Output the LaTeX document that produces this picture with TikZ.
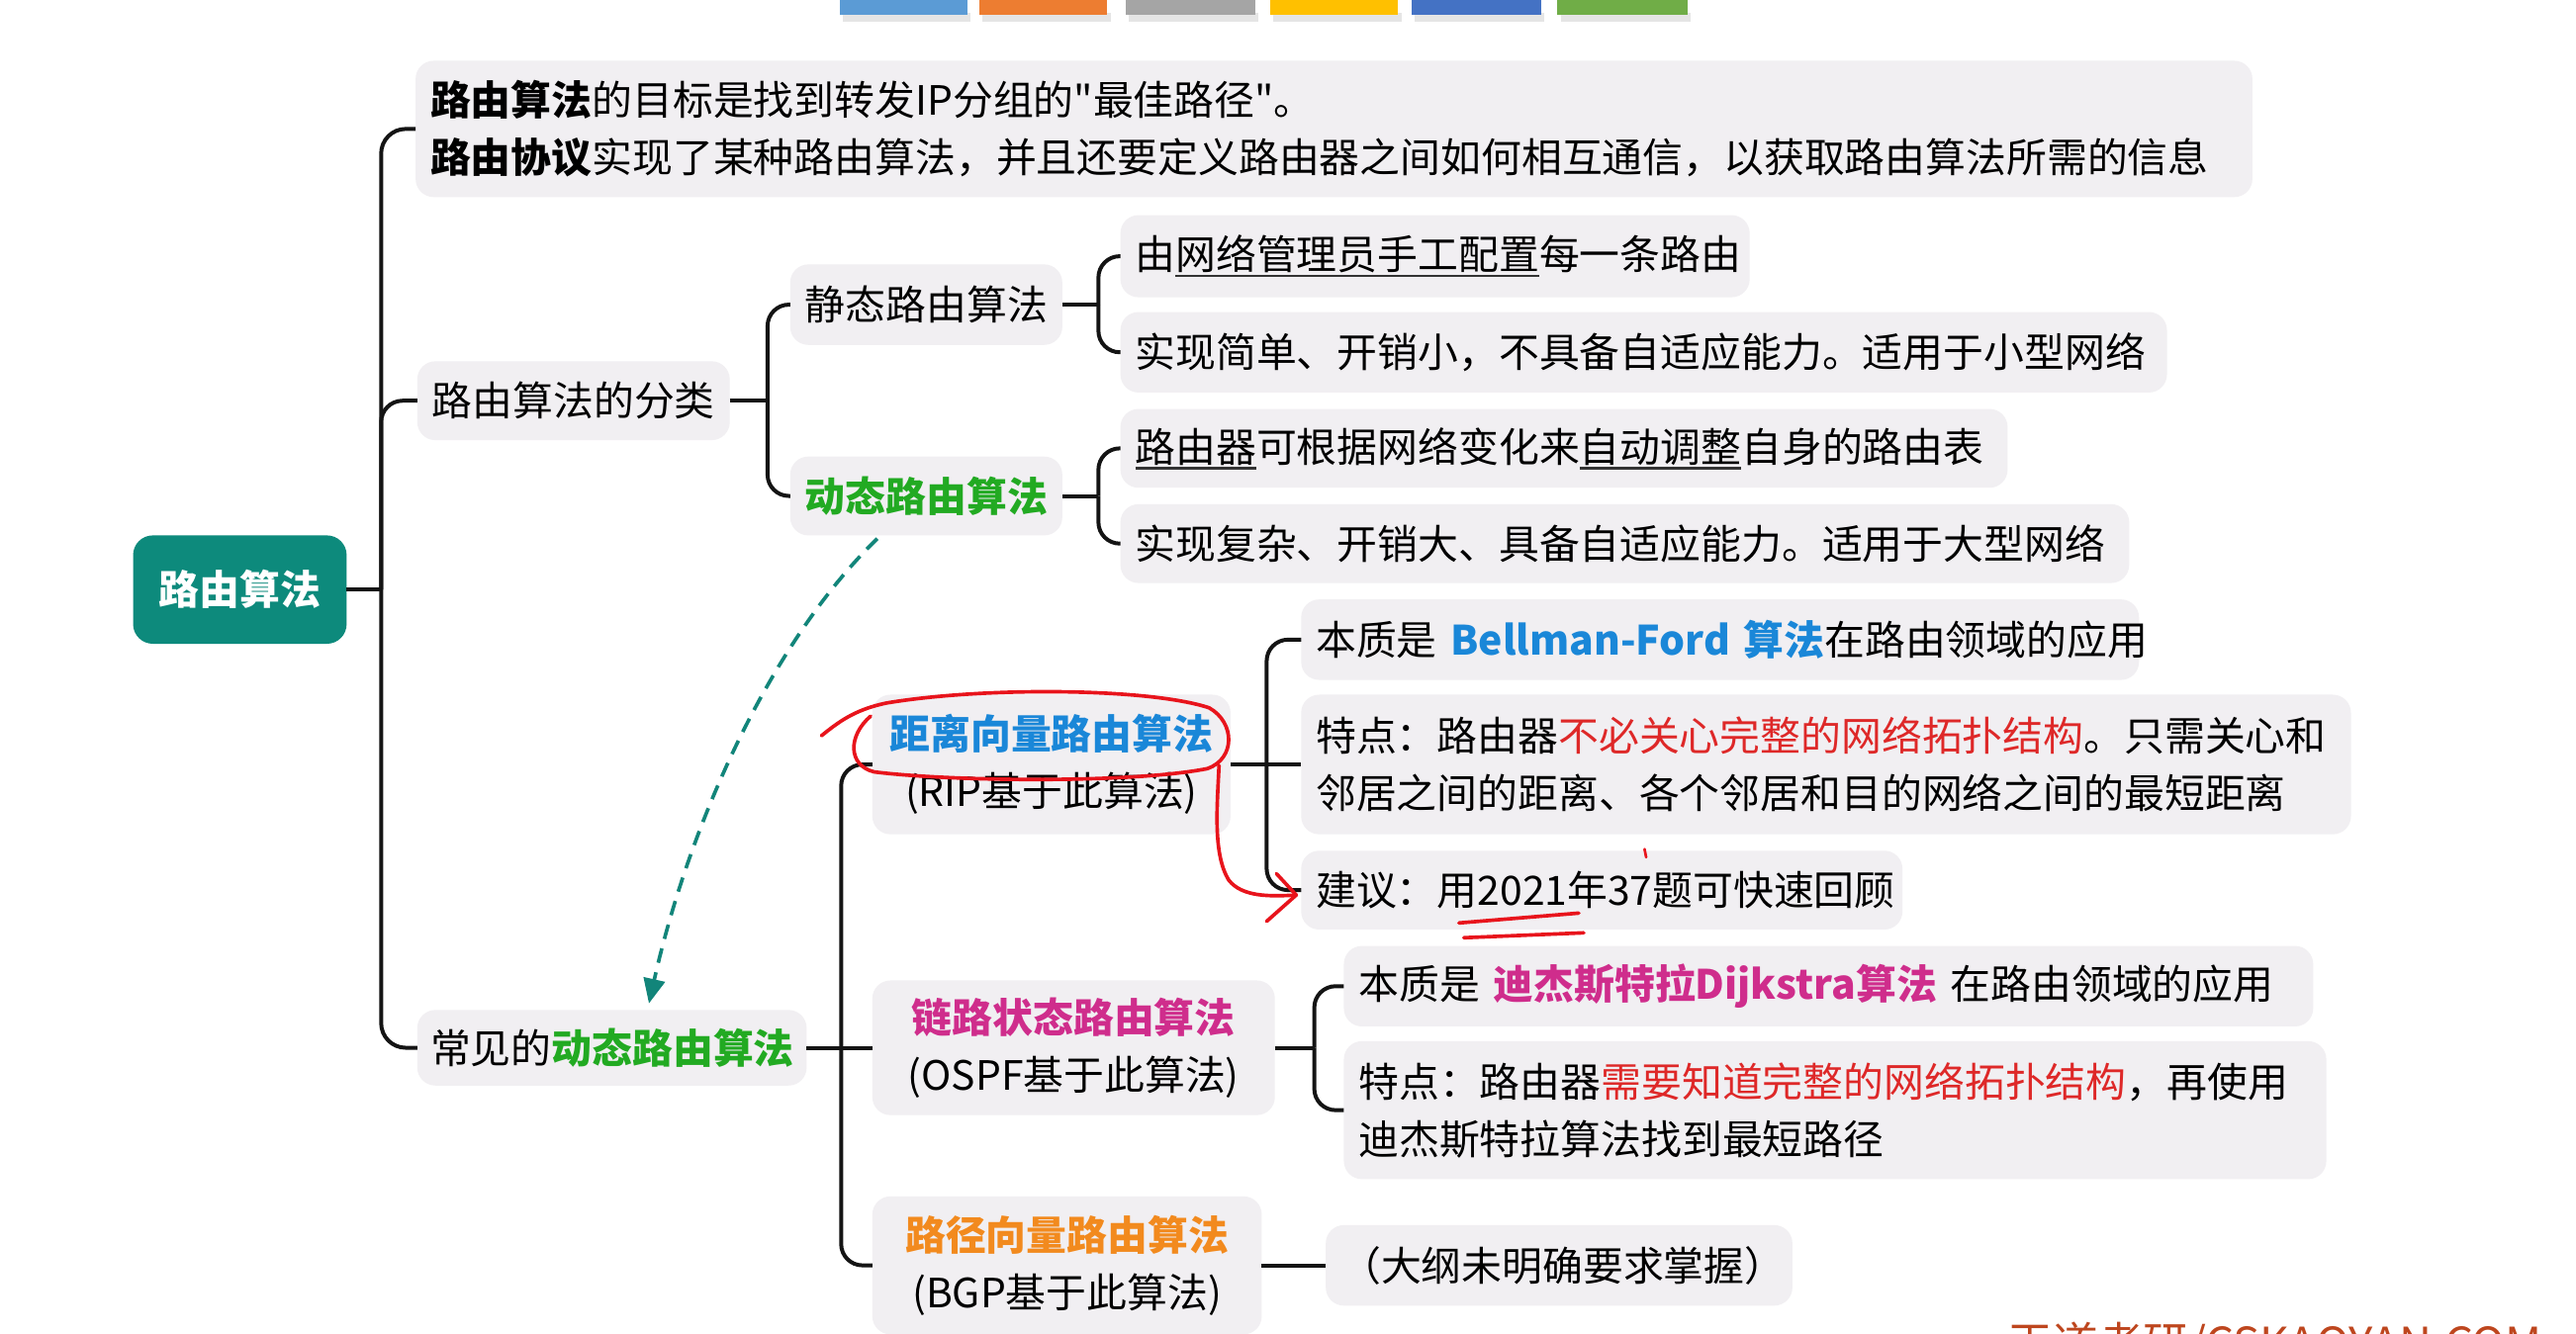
\documentclass[tikz,border=0pt]{standalone}
\usepackage{fontspec}
\setmainfont{Noto Sans CJK SC}
\newfontfamily\qfnt{Noto Sans CJK SC}
\usetikzlibrary{arrows.meta,calc}
\definecolor{boxgray}{RGB}{241,239,242}
\definecolor{rootteal}{RGB}{13,138,124}
\definecolor{arrteal}{RGB}{18,133,122}
\definecolor{cgreen}{RGB}{34,170,34}
\definecolor{cblue}{RGB}{26,135,216}
\definecolor{cmag}{RGB}{207,45,140}
\definecolor{corange}{RGB}{242,138,30}
\definecolor{cred}{RGB}{222,40,40}
\definecolor{annred}{RGB}{232,20,28}
\definecolor{wmark}{RGB}{190,70,30}
\definecolor{linec}{RGB}{20,20,20}
\definecolor{barA}{RGB}{91,155,213}
\definecolor{barB}{RGB}{237,125,49}
\definecolor{barC}{RGB}{165,165,165}
\definecolor{barD}{RGB}{255,192,0}
\definecolor{barE}{RGB}{68,114,196}
\definecolor{barF}{RGB}{112,173,71}
\newcommand\mfs{\fontsize{24.6pt}{35pt}\selectfont}
\newcommand\uln[1]{\setbox0=\hbox{#1}\rlap{\color{black!80}\rule[-4.5pt]{\wd0}{1.4pt}}\box0}
\newcommand\sq{{\qfnt"}}
\begin{document}
\begin{tikzpicture}[x=1pt,y=-1pt,
  nbase/.style={font=\mfs, inner ysep=0pt, outer sep=0pt},
  bx/.style={nbase, fill=boxgray, rounded corners=11pt, inner xsep=9pt, anchor=west, align=left},
  cbx/.style={bx, align=center},
  conn/.style={draw=linec, line width=2.4pt, rounded corners=13pt},
  tarrow/.style={draw=arrteal, line width=2.2pt, dash pattern=on 9pt off 6pt, -{Triangle[length=15pt,width=13pt,fill=arrteal]}},
  ann/.style={draw=annred, line width=2.2pt, line cap=round, line join=round}]
\useasboundingbox (0,0) rectangle (1568,812);
\fill[white] (0,0) rectangle (1568,812);
\clip (0,0) rectangle (1568,812);
% top colour bars
\foreach \a/\b/\c in {511/589/barA, 596/674/barB, 685/764/barC, 773/851/barD, 859/938/barE, 948/1027/barF}{
  \fill[black!10] (\a+2,8) rectangle (\b+2,13);
  \fill[\c] (\a,0) rectangle (\b,9);
}
% nodes
\node[nbase, fill=rootteal, text=white, rounded corners=12pt, minimum width=130pt, minimum height=66pt, font=\mfs\bfseries] (root) at (146,359) {路由算法};
\node[bx, minimum width=1118pt, minimum height=83pt, text width=1100pt] (goal) at (253,78.5) {\mbox{\textbf{路由算法}的目标是找到转发IP分组的\sq 最佳路径\sq 。}\\\mbox{\textbf{路由协议}实现了某种路由算法，并且还要定义路由器之间如何相互通信，以获取路由算法所需的信息}};
\node[cbx, minimum width=186pt, minimum height=48pt] (cls) at (254,244) {路由算法的分类};
\node[cbx, minimum width=161pt, minimum height=49pt] (stat) at (481,185.5) {静态路由算法};
\node[cbx, minimum width=161pt, minimum height=48pt, text=cgreen, font=\mfs\bfseries] (dyn) at (481,302) {动态路由算法};
\node[bx, minimum width=383pt, minimum height=50pt, text width=365pt] (s1) at (682,156) {\mbox{由\uln{网络管理员手工配置}每一条路由}};
\node[bx, minimum width=637pt, minimum height=49pt, text width=619pt] (s2) at (682,214.5) {\mbox{实现简单、开销小，不具备自适应能力。适用于小型网络}};
\node[bx, minimum width=540pt, minimum height=48pt, text width=522pt] (d1) at (682,273) {\mbox{\uln{路由器}可根据网络变化来\uln{自动调整}自身的路由表}};
\node[bx, minimum width=614pt, minimum height=48pt, text width=596pt] (d2) at (682,331) {\mbox{实现复杂、开销大、具备自适应能力。适用于大型网络}};
\node[bx, minimum width=237pt, minimum height=46pt, text width=221pt, inner xsep=8pt] (common) at (254,638) {\mbox{常见的\textcolor{cgreen}{\bfseries 动态路由算法}}};
\node[cbx, minimum width=218pt, minimum height=85pt] (dv) at (531,465.5) {\textcolor{cblue}{\bfseries 距离向量路由算法}\\(RIP基于此算法)};
\node[cbx, minimum width=245pt, minimum height=82pt] (ls) at (531,638) {\textcolor{cmag}{\bfseries 链路状态路由算法}\\(OSPF基于此算法)};
\node[cbx, minimum width=237pt, minimum height=84pt] (pv) at (531,770.5) {\textcolor{corange}{\bfseries 路径向量路由算法}\\(BGP基于此算法)};
\node[bx, minimum width=510pt, minimum height=49pt, text width=492pt] (dv1) at (792,389.5) {\mbox{本质是~\textcolor{cblue}{\bfseries Bellman-Ford~算法}在路由领域的应用}};
\node[bx, minimum width=639pt, minimum height=85pt, text width=621pt] (dv2) at (792,465.5) {\mbox{特点：路由器\textcolor{cred}{不必关心完整的网络拓扑结构}。只需关心和}\\\mbox{邻居之间的距离、各个邻居和目的网络之间的最短距离}};
\node[bx, minimum width=366pt, minimum height=48pt, text width=348pt] (dv3) at (792,542) {\mbox{建议：用2021年37题可快速回顾}};
\node[bx, minimum width=590pt, minimum height=49pt, text width=572pt] (ls1) at (818,600.5) {\mbox{本质是~\textcolor{cmag}{\bfseries 迪杰斯特拉Dijkstra算法}~在路由领域的应用}};
\node[bx, minimum width=598pt, minimum height=84pt, text width=580pt] (ls2) at (818,676) {\mbox{特点：路由器\textcolor{cred}{需要知道完整的网络拓扑结构}，再使用}\\\mbox{迪杰斯特拉算法找到最短路径}};
\node[bx, minimum width=284pt, minimum height=49pt, text width=266pt] (pv1) at (807,770.5) {\mbox{（大纲未明确要求掌握）}};
% connectors
\coordinate (jr) at ($(root.east)+(21,0)$);
\draw[conn] (root.east) -- (jr);
\draw[conn, rounded corners=15pt] (jr) |- (goal.west);
\draw[conn] (jr) |- (cls.west);
\draw[conn, rounded corners=15pt] (jr) |- (common.west);
\coordinate (jc) at ($(cls.east)+(23,0)$);
\draw[conn] (cls.east) -- (jc);
\draw[conn] (jc) |- (stat.west);
\draw[conn] (jc) |- (dyn.west);
\coordinate (js) at ($(stat.east)+(22,0)$);
\draw[conn] (stat.east) -- (js);
\draw[conn] (js) |- (s1.west);
\draw[conn] (js) |- (s2.west);
\coordinate (jd) at ($(dyn.east)+(22,0)$);
\draw[conn] (dyn.east) -- (jd);
\draw[conn] (jd) |- (d1.west);
\draw[conn] (jd) |- (d2.west);
\coordinate (jm) at ($(common.east)+(21,0)$);
\draw[conn] (common.east) -- (jm);
\draw[conn] (jm) |- (dv.west);
\draw[conn] (jm) -- (ls.west);
\draw[conn] (jm) |- (pv.west);
\coordinate (jv) at ($(dv.east)+(22,0)$);
\draw[conn] (dv.east) -- (jv);
\draw[conn] (jv) |- (dv1.west);
\draw[conn] (jv) -- (dv2.west);
\draw[conn] (jv) |- (dv3.west);
\coordinate (jl) at ($(ls.east)+(24,0)$);
\draw[conn] (ls.east) -- (jl);
\draw[conn] (jl) |- (ls1.west);
\draw[conn] (jl) |- (ls2.west);
\draw[conn] (pv.east) -- (pv1.west);
% teal dashed arrow
\draw[tarrow] ($(dyn.south west)+(53,2)$) .. controls (470,390) and (420,500) .. ($(common.north west)+(141,-4)$);
% red hand annotations
\draw[ann] (500,448) .. controls (510,440) and (520,432) .. (540,428) .. controls (600,418) and (700,419) .. (736,431) .. controls (752,440) and (752,462) .. (735,468) .. controls (690,477) and (580,476) .. (532,470) .. controls (516,466) and (516,448) .. (530,436);
\draw[ann] (742,466) .. controls (741,490) and (738,520) .. (748,536) .. controls (756,546) and (772,546) .. (789,545);
\draw[ann] (777,532) -- (789,545) -- (771,561);
\draw[ann] (888,562) -- (961,556);
\draw[ann] (891,571) -- (964,568);
\draw[ann, line width=1.6pt] (1001,517) -- (1002,522);
% watermark
\node[anchor=base west, inner sep=0pt, font=\fontsize{27.5pt}{30pt}\selectfont, text=wmark] (wm) at (1222,828) {王道考研/CSKAOYAN.COM};
\end{tikzpicture}
\end{document}
